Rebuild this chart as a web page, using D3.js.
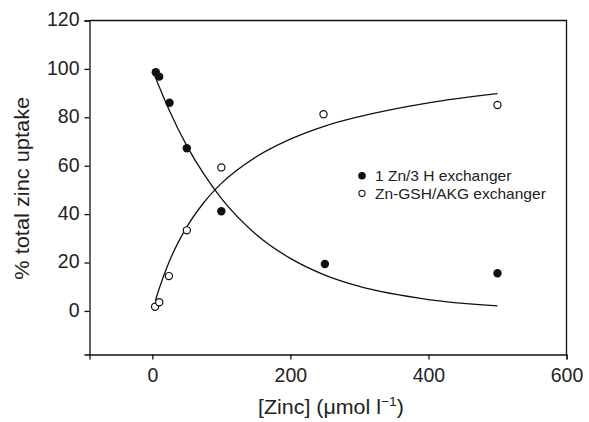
<!DOCTYPE html>
<html>
<head>
<meta charset="utf-8">
<script src="https://cdn.jsdelivr.net/npm/d3@7"></script>
<style>
html,body{margin:0;padding:0;background:#fff;}
svg{display:block;font-family:"Liberation Sans",Arial,Helvetica,sans-serif;}
</style>
</head>
<body>
<svg id="chart" width="589" height="422"></svg>
<script>
// Data
const xTicks = [0, 200, 400, 600];
const yTicks = [0, 20, 40, 60, 80, 100, 120];
const seriesNames = ["1 Zn/3 H exchanger", "Zn-GSH/AKG exchanger"];

const zincX = [5, 10, 25, 50, 100, 250, 500];
const protonValues = [98.6, 96.8, 86, 67.2, 41.2, 19.4, 15.6];
const gshX = [4, 10, 24, 50, 100, 248, 500];
const gshValues = [1.7, 3.6, 14.4, 33.3, 59.3, 81.3, 85.1];

// fitted curves
const fitX1 = [3, 10, 25, 50, 75, 100, 150, 200, 250, 300, 400, 500];
const fitY1 = [97.7, 92.6, 82.6, 68.2, 56.4, 46.5, 31.7, 21.7, 14.8, 10.1, 4.7, 2.1];
const fitX2 = [4.3, 10, 25, 50, 75, 100, 150, 200, 250, 300, 400, 500];
const fitY2 = [4.2, 9.3, 20.7, 34.7, 44.9, 52.7, 63.6, 71.0, 76.4, 80.3, 86.0, 89.8];

const svg = d3.select("#chart");
const m = {left: 89.5, top: 20.5, right: 566.5, bottom: 354.5};

const x = d3.scaleLinear().domain([-91, 600]).range([m.left, m.right]);
const y = d3.scaleLinear().domain([-18, 120]).range([m.bottom, m.top]);

const textColor = "#222";
const ink = "#111";

// frame (top and right)
svg.append("path")
  .attr("d", `M${m.left},${m.top}H${m.right}V${m.bottom}`)
  .attr("fill", "none").attr("stroke", ink).attr("stroke-width", 1.3);

const xAxis = svg.append("g")
  .attr("transform", `translate(0,${m.bottom})`)
  .call(d3.axisBottom(x).tickValues(xTicks).tickSize(5).tickPadding(9).tickFormat(d3.format("d")));
const yAxis = svg.append("g")
  .attr("transform", `translate(${m.left},0)`)
  .call(d3.axisLeft(y).tickValues(yTicks).tickSize(5).tickPadding(5).tickFormat(d3.format("d")));

[xAxis, yAxis].forEach(a => {
  a.select(".domain").attr("stroke", ink).attr("stroke-width", 1.3);
  a.selectAll(".tick line").attr("stroke", ink).attr("stroke-width", 1.3);
  a.selectAll(".tick text").attr("fill", textColor).style("font-size", "19.5px")
   .style("font-family", "'Liberation Sans',Arial,sans-serif");
});
yAxis.selectAll(".tick text").attr("dy", "0.28em");

// fitted lines
const line = d3.line().x(d => x(d[0])).y(d => y(d[1])).curve(d3.curveMonotoneX);
svg.append("path").datum(fitX1.map((v, i) => [v, fitY1[i]]))
  .attr("d", line).attr("fill", "none").attr("stroke", ink).attr("stroke-width", 1.3);
svg.append("path").datum(fitX2.map((v, i) => [v, fitY2[i]]))
  .attr("d", line).attr("fill", "none").attr("stroke", ink).attr("stroke-width", 1.3);

// points
svg.append("g").selectAll("circle").data(zincX.map((v, i) => [v, protonValues[i]]))
  .join("circle").attr("cx", d => x(d[0])).attr("cy", d => y(d[1])).attr("r", 4.2)
  .attr("fill", ink);
svg.append("g").selectAll("circle").data(gshX.map((v, i) => [v, gshValues[i]]))
  .join("circle").attr("cx", d => x(d[0])).attr("cy", d => y(d[1])).attr("r", 3.6)
  .attr("fill", "#fff").attr("stroke", ink).attr("stroke-width", 1.2);

// legend
const lg = svg.append("g");
const legendY = [175.7, 193.3];
seriesNames.forEach((name, i) => {
  const cy = legendY[i];
  lg.append("circle").attr("cx", 362).attr("cy", cy).attr("r", i === 0 ? 3.8 : 3.1)
    .attr("fill", i === 0 ? ink : "#fff").attr("stroke", ink).attr("stroke-width", i === 0 ? 0 : 1.1);
  lg.append("text").attr("transform", `translate(375,${cy + 5.3}) scale(1.05,1)`)
    .attr("fill", textColor).style("font-size", "14.8px").text(name);
});

// axis titles
const xt = svg.append("text")
  .attr("transform", `translate(${(m.left + m.right) / 2 + 3},414) scale(1.07,1)`)
  .attr("text-anchor", "middle").attr("fill", textColor).style("font-size", "20px");
xt.append("tspan").text("[Zinc] (\u03bcmol l");
xt.append("tspan").text("\u22121").attr("dy", -8).style("font-size", "13px");
xt.append("tspan").text(")").attr("dy", 8);

svg.append("text").attr("transform", `translate(28.5,188.3) rotate(-90) scale(1.09,1)`)
  .attr("text-anchor", "middle").attr("fill", textColor).style("font-size", "20px")
  .text("% total zinc uptake");
</script>
</body>
</html>
